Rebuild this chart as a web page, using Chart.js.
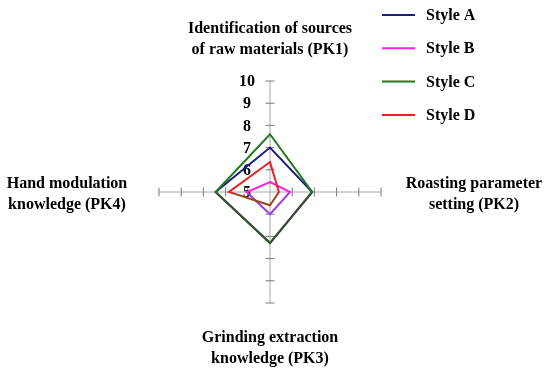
<!DOCTYPE html>
<html>
<head>
<meta charset="utf-8">
<script src="https://cdn.jsdelivr.net/npm/chart.js@4/dist/chart.umd.min.js"></script>
<style>
  body { margin: 0; background: #fff; }
  #wrap { width: 550px; height: 377px; position: relative; }
</style>
</head>
<body>
<div id="wrap"><canvas id="myRadarChart"></canvas></div>
<script>
// axes (PK1 top, PK2 right, PK3 bottom, PK4 left)
var axisLabels = [
    ["Identification of sources", "of raw materials (PK1)"],
    ["Roasting parameter", "setting (PK2)"],
    ["Grinding extraction", "knowledge (PK3)"],
    ["Hand modulation", "knowledge (PK4)"]
];
var seriesNames = ["Style A", "Style B", "Style C", "Style D"];
var styleA = [7.0, 6.9, 7.3, 7.45];
var styleB = [5.45, 5.9, 6.0, 6.05];
var styleC = [7.6, 6.9, 7.3, 7.45];
var styleD = [6.35, 5.4, 5.6, 6.85];
var tickValues = [5, 6, 7, 8, 9, 10];

var FONT = 'bold 16px "Liberation Serif", "Times New Roman", serif';

// lower half of every line is a darker shade in the original -> hard-stop gradient at the centre
function splitColor(main, dark) {
    return function(c) {
        var chart = c.chart;
        var r = chart.scales && chart.scales.r;
        if (!r || !chart.height || !isFinite(r.yCenter)) return main;
        var s = (r.yCenter + 0.5) / chart.height;
        if (!isFinite(s)) return main;
        s = Math.min(Math.max(s, 0), 1);
        var g = chart.ctx.createLinearGradient(0, 0, 0, chart.height);
        g.addColorStop(0, main);
        g.addColorStop(s, main);
        g.addColorStop(s, dark);
        g.addColorStop(1, dark);
        return g;
    };
}

var spokeDecor = {
    id: 'spokeDecor',
    beforeDatasetsDraw: function(chart) {
        var ctx = chart.ctx;
        var r = chart.scales.r;
        ctx.save();
        // small tick marks across each spoke
        ctx.strokeStyle = '#7a7a7a';
        ctx.lineWidth = 1;
        for (var i = 0; i < axisLabels.length; i++) {
            var a = r.getIndexAngle(i) - Math.PI / 2;
            var px = -Math.sin(a), py = Math.cos(a);
            tickValues.forEach(function(v) {
                if (v === r.min) return;
                var p = r.getPointPositionForValue(i, v);
                ctx.beginPath();
                ctx.moveTo(p.x - px * 4.5, p.y - py * 4.5);
                ctx.lineTo(p.x + px * 4.5, p.y + py * 4.5);
                ctx.stroke();
            });
        }
        // value labels on the top spoke
        ctx.fillStyle = '#000';
        ctx.font = FONT;
        ctx.textAlign = 'center';
        ctx.textBaseline = 'middle';
        tickValues.forEach(function(v) {
            var p = r.getPointPositionForValue(0, v);
            ctx.fillText(String(v), p.x - 23, p.y + 1);
        });
        ctx.restore();
    },
    afterDraw: function(chart) {
        var ctx = chart.ctx;
        var r = chart.scales.r;
        ctx.save();
        ctx.fillStyle = '#000';
        ctx.font = FONT;
        ctx.textAlign = 'center';
        ctx.textBaseline = 'alphabetic';
        // axis titles placed from the outer end of each spoke
        var offs = [
            { dx: 0, dy: -48 },
            { dx: 93, dy: -4 },
            { dx: 0, dy: 39 },
            { dx: -92, dy: -4 }
        ];
        for (var i = 0; i < axisLabels.length; i++) {
            var p = r.getPointPositionForValue(i, r.max);
            axisLabels[i].forEach(function(line, k) {
                ctx.fillText(line, p.x + offs[i].dx, p.y + offs[i].dy + k * 21);
            });
        }
        // legend
        ctx.textAlign = 'left';
        ctx.textBaseline = 'middle';
        chart.data.datasets.forEach(function(ds, k) {
            var y = 15 + k * 33.3;
            ctx.strokeStyle = ds.legendColor;
            ctx.lineWidth = 2;
            ctx.beginPath();
            ctx.moveTo(382, y);
            ctx.lineTo(415, y);
            ctx.stroke();
            ctx.fillText(ds.label, 426, y + 1);
        });
        ctx.restore();
    }
};

document.addEventListener("DOMContentLoaded", function() {
    var ctxRadar = document.getElementById("myRadarChart");

    function makeSet(name, data, main, dark, order) {
        return {
            label: name,
            data: data,
            fill: false,
            borderColor: splitColor(main, dark),
            legendColor: main,
            borderWidth: 2,
            pointRadius: 0,
            pointHoverRadius: 0,
            order: order
        };
    }

    new Chart(ctxRadar, {
        type: 'radar',
        data: {
            labels: axisLabels,
            datasets: [
                makeSet(seriesNames[0], styleA, '#1c1c7c', '#1c1c5c', 3),
                makeSet(seriesNames[1], styleB, '#ff22d8', '#9a44dd', 1),
                makeSet(seriesNames[2], styleC, '#1f7a1f', '#3a5530', 2),
                makeSet(seriesNames[3], styleD, '#ee1c24', '#98471e', 0)
            ]
        },
        options: {
            responsive: true,
            maintainAspectRatio: false,
            animation: false,
            layout: { padding: { top: 81, bottom: 73, left: 158, right: 168 } },
            elements: { line: { tension: 0 } },
            plugins: {
                legend: { display: false },
                tooltip: { enabled: false }
            },
            scales: {
                r: {
                    min: 5,
                    max: 10,
                    ticks: { display: false, stepSize: 1 },
                    grid: { display: false },
                    angleLines: { display: true, color: '#a6a6a6', lineWidth: 1 },
                    pointLabels: { display: false }
                }
            }
        },
        plugins: [spokeDecor]
    });
});
</script>
</body>
</html>
